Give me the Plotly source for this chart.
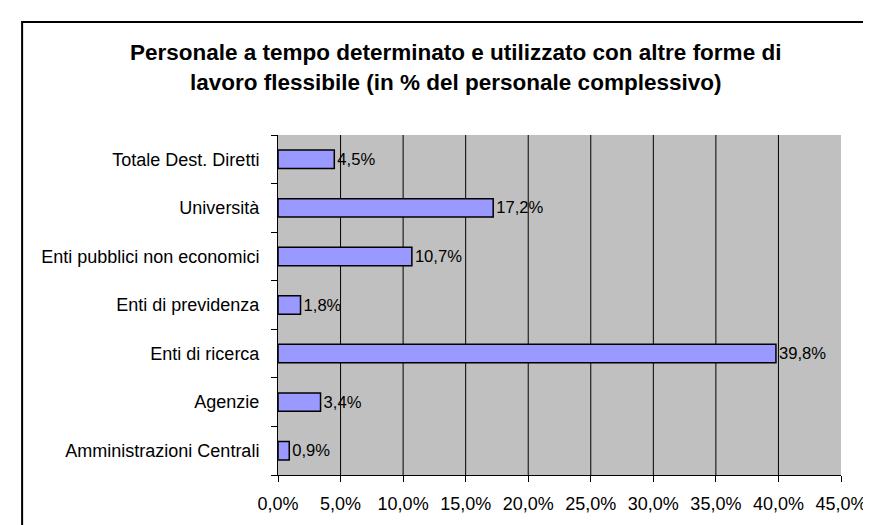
import plotly.graph_objects as go

categories = ["Amministrazioni Centrali", "Agenzie", "Enti di ricerca", "Enti di previdenza",
              "Enti pubblici non economici", "Università", "Totale Dest. Diretti"]
values = [0.9, 3.4, 39.8, 1.8, 10.7, 17.2, 4.5]
x_ticks = [0, 5, 10, 15, 20, 25, 30, 35, 40, 45]
x_tick_labels = ["0,0%", "5,0%", "10,0%", "15,0%", "20,0%", "25,0%", "30,0%", "35,0%", "40,0%", "45,0%"]

FONT = "Liberation Sans, Arial, sans-serif"

fig = go.Figure(go.Bar(
    x=values, y=categories, orientation="h",
    marker=dict(color="#9999FF", line=dict(color="black", width=1.5)),
    text=values, texttemplate="%{x:.1f}%", textposition="outside",
    textfont=dict(family=FONT, size=18, color="black"),
    cliponaxis=False,
))

# vertical gridlines (interior ticks only, as in the original)
grid_shapes = [dict(type="line", xref="x", yref="paper", x0=v, x1=v, y0=0, y1=1,
                    line=dict(color="black", width=1), layer="below")
               for v in x_ticks[1:-1]]

border = dict(type="rect", xref="paper", yref="paper",
              x0=-0.4545, x1=2, y0=-1, y1=1.332,
              line=dict(color="black", width=2), fillcolor="rgba(0,0,0,0)", layer="above")

fig.update_layout(
    width=871, height=525,
    margin=dict(l=270, r=29, t=127, b=58),
    paper_bgcolor="white", plot_bgcolor="#C0C0C0",
    separators=",.",
    bargap=0.62,
    showlegend=False,
    font=dict(family=FONT, size=18, color="black"),
    xaxis=dict(range=[0, 45], tickvals=x_ticks, ticktext=x_tick_labels,
               showgrid=False,
               showline=True, linecolor="black", linewidth=1,
               ticks="outside", ticklen=6, tickcolor="black",
               ticklabelstandoff=6,
               tickfont=dict(family=FONT, size=18, color="black"),
               zeroline=False, fixedrange=True),
    yaxis=dict(type="category", categoryorder="array", categoryarray=categories,
               showgrid=False, showline=True, linecolor="black", linewidth=1,
               ticks="outside", ticklen=6, tickcolor="black", tickson="boundaries",
               ticklabelstandoff=14,
               tickfont=dict(family=FONT, size=18, color="black"), fixedrange=True),
    annotations=[
        dict(text="<b>Personale a tempo determinato e utilizzato con altre forme di</b>",
             xref="paper", yref="paper", x=0.3147, y=1.244, xanchor="center", yanchor="middle",
             showarrow=False, font=dict(family=FONT, size=22.5, color="black")),
        dict(text="<b>lavoro flessibile (in % del personale complessivo)</b>",
             xref="paper", yref="paper", x=0.3147, y=1.153, xanchor="center", yanchor="middle",
             showarrow=False, font=dict(family=FONT, size=22.5, color="black")),
    ],
    shapes=grid_shapes + [border],
)

fig.write_html("out.html")
